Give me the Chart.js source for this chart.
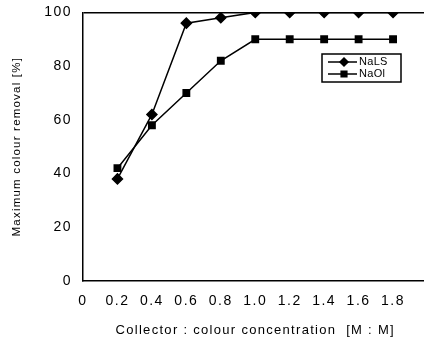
<!DOCTYPE html>
<html>
<head>
<meta charset="utf-8">
<script src="https://cdn.jsdelivr.net/npm/chart.js@4/dist/chart.umd.min.js"></script>
<style>
  html, body { margin: 0; padding: 0; background: #fff; }
  #wrap { width: 424px; height: 342px; overflow: hidden; position: relative; }
  #chart { position: absolute; left: 0; top: -7px; }
</style>
</head>
<body>
<div id="wrap"><canvas id="chart" width="434" height="349"></canvas></div>
<script>
const ratios = [0.2, 0.4, 0.6, 0.8, 1.0, 1.2, 1.4, 1.6, 1.8];
const nals = [38, 62, 96, 98, 100, 100, 100, 100, 100];
const naol = [42, 58, 70, 82, 90, 90, 90, 90, 90];
const seriesNames = ["NaLS", "NaOl"];
const xTicks = [0, 0.2, 0.4, 0.6, 0.8, 1.0, 1.2, 1.4, 1.6, 1.8];
const yTicks = [0, 20, 40, 60, 80, 100];

const toPoints = (xs, ys) => xs.map((x, i) => ({ x: x, y: ys[i] }));

// the scanned figure has widely spaced lettering
const spaced = (fn, sp) => function(...a) {
    const c = this.ctx;
    const old = c.letterSpacing;
    c.letterSpacing = sp;
    fn.apply(this, a);
    c.letterSpacing = old;
};
const patchScale = (s, labelSp, titleSp) => {
    if (s._spaced) return;
    s.drawLabels = spaced(s.drawLabels, labelSp);
    s.drawTitle = spaced(s.drawTitle, titleSp);
    s._spaced = true;
};

// legend box drawn like the original figure: line with marker through it
const boxLegend = {
    id: 'boxLegend',
    afterDraw(chart) {
        const ctx = chart.ctx;
        const x0 = 322, y0 = 61, w = 79, h = 28;
        ctx.save();
        ctx.strokeStyle = '#000';
        ctx.lineWidth = 1.5;
        ctx.strokeRect(x0, y0, w, h);
        chart.data.datasets.forEach((ds, i) => {
            const yy = y0 + 8 + i * 12;
            ctx.beginPath();
            ctx.moveTo(x0 + 6, yy);
            ctx.lineTo(x0 + 35, yy);
            ctx.lineWidth = 1.5;
            ctx.stroke();
            ctx.fillStyle = '#000';
            Chart.helpers.drawPoint(ctx, {
                pointStyle: ds.pointStyle, radius: 4, borderWidth: 1
            }, x0 + 22, yy);
            ctx.font = '11px "Liberation Sans"';
            ctx.letterSpacing = '0.3px';
            ctx.textBaseline = 'middle';
            ctx.fillText(ds.label, x0 + 37, yy);
        });
        ctx.restore();
    }
};

new Chart(document.getElementById('chart'), {
    type: 'line',
    plugins: [boxLegend],
    data: {
        datasets: [
            {
                label: seriesNames[0],
                data: toPoints(ratios, nals),
                borderColor: '#000',
                backgroundColor: '#000',
                borderWidth: 1.5,
                pointStyle: 'rectRot',
                pointRadius: 5,
                tension: 0
            },
            {
                label: seriesNames[1],
                data: toPoints(ratios, naol),
                borderColor: '#000',
                backgroundColor: '#000',
                borderWidth: 1.5,
                pointStyle: 'rect',
                pointRadius: 4.5,
                tension: 0
            }
        ]
    },
    options: {
        responsive: false,
        animation: false,
        layout: { padding: { top: 4, right: 0, left: 10, bottom: 4 } },
        plugins: {
            legend: { display: false },
            tooltip: { enabled: false }
        },
        scales: {
            x: {
                type: 'linear',
                min: 0,
                max: 2.0,
                afterBuildTicks: (s) => { s.ticks = xTicks.map(v => ({ value: v })); },
                afterFit: (s) => { s.height = 57; patchScale(s, '1.5px', '1.3px'); },
                grid: { display: false, drawOnChartArea: false, drawTicks: true, tickLength: 4, color: '#000' },
                border: { display: true, color: '#000', width: 1.5 },
                ticks: {
                    color: '#000',
                    padding: 8,
                    maxRotation: 0,
                    font: { family: 'Liberation Sans', size: 14 },
                    callback: (v) => v === 0 ? '0' : v.toFixed(1)
                },
                title: {
                    display: true,
                    text: 'Collector : colour concentration  [M : M]',
                    color: '#000',
                    padding: { top: 6, bottom: 0 },
                    font: { family: 'Liberation Sans', size: 13 }
                }
            },
            y: {
                min: 0,
                max: 100,
                afterBuildTicks: (s) => { s.ticks = yTicks.map(v => ({ value: v })); },
                afterFit: (s) => { s.width = 73; patchScale(s, '1.5px', '1.2px'); },
                grid: {
                    drawTicks: false,
                    color: (c) => c.tick && c.tick.value === 100 ? '#000' : 'rgba(0,0,0,0)',
                    lineWidth: 1.5
                },
                border: { display: true, color: '#000', width: 1.5 },
                ticks: {
                    color: '#000',
                    padding: 11,
                    font: { family: 'Liberation Sans', size: 14 }
                },
                title: {
                    display: true,
                    text: 'Maximum colour removal [%]',
                    color: '#000',
                    padding: { top: 0, bottom: 0 },
                    font: { family: 'Liberation Sans', size: 11.5 }
                }
            }
        }
    }
});
</script>
</body>
</html>
